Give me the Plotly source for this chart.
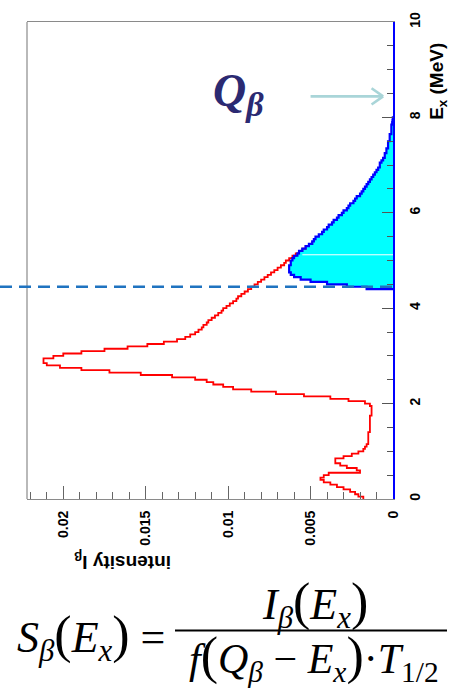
import plotly.graph_objects as go

# ---------------- data ----------------
BIN_W = 0.05  # MeV

# red histogram: beta intensity, bins starting at E = 0.00 MeV
red_E0 = 0.0
red_I = [
    0.0018, 0.0021, 0.0023, 0.0026, 0.0030, 0.0034, 0.0038, 0.0042, 0.0044, 0.0042,  # 0.00-0.45
    0.0039, 0.0020, 0.0022, 0.0028, 0.0032, 0.0035, 0.0035, 0.0030, 0.0025, 0.0021,  # 0.50-0.95
    0.0018, 0.0017, 0.0016, 0.0015, 0.0015, 0.0015, 0.0015, 0.0015, 0.0014, 0.0014,  # 1.00-1.45
    0.0014, 0.0014, 0.0014, 0.0014, 0.0014, 0.0013, 0.0013, 0.0013, 0.0013, 0.0014,  # 1.50-1.95
    0.0017, 0.0027, 0.0038, 0.0054, 0.0071, 0.0086, 0.0097, 0.0103, 0.0109, 0.0113,  # 2.00-2.45
    0.0120, 0.0134, 0.0153, 0.0172, 0.0189, 0.0202, 0.0210, 0.0212, 0.0212, 0.0206,  # 2.50-2.95
    0.0200, 0.0189, 0.0175, 0.0161, 0.0149, 0.0139, 0.0131, 0.0126, 0.0123, 0.0120,  # 3.00-3.45
    0.0118, 0.0116, 0.0115, 0.0113, 0.0112, 0.0110, 0.0108, 0.0106, 0.0104, 0.0103,  # 3.50-3.95
    0.0101, 0.0099, 0.0097, 0.0095, 0.0094, 0.0092, 0.0090, 0.0088, 0.0086, 0.0084,  # 4.00-4.45
    0.0082, 0.0080, 0.0078, 0.0076, 0.0074, 0.0072, 0.0070, 0.0068, 0.0066, 0.0065,  # 4.50-4.95
    0.0063, 0.0061, 0.0059, 0.0057, 0.0055, 0.0053, 0.0051, 0.0049,                  # 5.00-5.35
]

# blue histogram (above the threshold), bins starting at E = 4.40 MeV
blue_E0 = 4.40
blue_I = [
    0.0016, 0.0028, 0.0040, 0.0050, 0.0056, 0.0060, 0.0062, 0.0063, 0.0063, 0.0063,  # 4.40-4.85
    0.0062, 0.0062, 0.0061, 0.0060, 0.0058, 0.0057, 0.0055, 0.0053, 0.0051, 0.0049,  # 4.90-5.35
    0.0048, 0.0047, 0.0045, 0.0043, 0.0042, 0.0040, 0.0039, 0.0037, 0.0036, 0.0034,  # 5.40-5.85
    0.0033, 0.0031, 0.0030, 0.0028, 0.0027, 0.0026, 0.0024, 0.0023, 0.0022, 0.0020,  # 5.90-6.35
    0.0019, 0.0018, 0.0017, 0.0016, 0.0015, 0.0014, 0.0013, 0.0012, 0.0011, 0.0010,  # 6.40-6.85
    0.0009, 0.0008, 0.0008, 0.0007, 0.0006, 0.0005, 0.0005, 0.0004, 0.0004, 0.0003,  # 6.90-7.35
    0.0003, 0.0003, 0.0002, 0.0002, 0.0002, 0.0001, 0.0001, 0.0001, 0.0001, 0.00005, # 7.40-7.85
    0.00003, 0.00001,                                                                 # 7.90-7.95
]

threshold_E = 4.45      # dashed line
q_arrow_E = 8.44        # arrow pointing at Q_beta
white_line_E = 5.12     # thin white line through the filled region

E_ticks = [0, 2, 4, 6, 8, 10]
I_ticks = [0, 0.005, 0.01, 0.015, 0.02]
I_tick_text = ["0", "0.005", "0.01", "0.015", "0.02"]

E_range = [0, 10]
I_range = [0.0222, 0]

# ---------------- layout geometry ----------------
W, H = 452, 691
ML, MR, MT, MB = 27, 59, 13, 192
PW, PH = W - ML - MR, H - MT - MB


def px2paper(px, py):
    return (px - ML) / PW, (H - MB - py) / PH


def step_xy(E0, vals, close=True):
    xs, ys = [], []
    if close:
        xs.append(0.0)
        ys.append(E0)
    for i, v in enumerate(vals):
        xs.append(v)
        ys.append(E0 + i * BIN_W)
    xs.append(vals[-1])
    ys.append(E0 + len(vals) * BIN_W)
    if close:
        xs.append(0.0)
        ys.append(E0 + len(vals) * BIN_W)
    return xs, ys


fig = go.Figure()

bx, by = step_xy(blue_E0, blue_I)
fig.add_trace(go.Scatter(x=bx, y=by, mode="lines", line=dict(color="#00ffff", width=0, shape="vh"),
                         fill="tozerox", fillcolor="#00ffff", hoverinfo="skip"))

rx, ry = step_xy(red_E0, red_I, close=False)
fig.add_trace(go.Scatter(x=rx, y=ry, mode="lines", line=dict(color="#ff0000", width=1.8, shape="vh")))

fig.add_trace(go.Scatter(x=bx, y=by, mode="lines", line=dict(color="#0000ff", width=2.2, shape="vh")))

shapes = []
# white artifact line through cyan fill
shapes.append(dict(type="line", xref="x", yref="y", x0=0, x1=0.0055, y0=white_line_E, y1=white_line_E,
                   line=dict(color="white", width=1), layer="above"))
# left grey frame
shapes.append(dict(type="line", xref="paper", yref="paper", x0=0, x1=0, y0=0, y1=1,
                   line=dict(color="#8a8a8a", width=1.2)))
# dashed threshold line
ty = (threshold_E - E_range[0]) / (E_range[1] - E_range[0])
shapes.append(dict(type="line", xref="paper", yref="paper", x0=px2paper(0, 0)[0], x1=1, y0=ty, y1=ty,
                   line=dict(color="#1f73c0", width=2.6, dash="12px,7px"), layer="above"))
# Q_beta arrow (shaft + open chevron)
arrow_col = "#a9d5d8"
shapes.append(dict(type="line", xref="x", yref="y", x0=0.0050, x1=0.0006, y0=q_arrow_E, y1=q_arrow_E,
                   line=dict(color=arrow_col, width=2.6)))
shapes.append(dict(type="line", xref="x", yref="y", x0=0.0013, x1=0.0006, y0=q_arrow_E + 0.17, y1=q_arrow_E,
                   line=dict(color=arrow_col, width=2.6)))
shapes.append(dict(type="line", xref="x", yref="y", x0=0.0013, x1=0.0006, y0=q_arrow_E - 0.17, y1=q_arrow_E,
                   line=dict(color=arrow_col, width=2.6)))
# fraction bar
fx0, fy = px2paper(175, 633)
fx1, _ = px2paper(447, 633)
shapes.append(dict(type="line", xref="paper", yref="paper", x0=fx0, x1=fx1, y0=fy, y1=fy,
                   line=dict(color="black", width=2)))

annotations = []


def ann(text, px, py, size, family="Liberation Sans", angle=0, color="black", xanchor="center",
        yanchor="middle", weight="normal"):
    x, y = px2paper(px, py)
    annotations.append(dict(text=text, x=x, y=y, xref="paper", yref="paper", showarrow=False,
                            textangle=angle, xanchor=xanchor, yanchor=yanchor,
                            font=dict(size=size, family=family, color=color, weight=weight)))


ann("E<sub>x</sub> (MeV)", 438, 74, 19, angle=-90, weight="bold")
ann("intensity I<sub>β</sub>", 123, 562, 19, angle=180, weight="bold")
ann("<b><i>Q</i></b><sub><span style='font-size:34px'><b><i>β</i></b></span></sub>", 238, 86, 46,
    family="Liberation Serif", color="#2b2a72")

serif = "Liberation Serif"
big = "<span style='font-size:52px'>%s</span>"
ann("<i>S</i><sub><i>β</i></sub>" + big % "(" + "<i>E</i><sub><i>x</i></sub>" + big % ")" + " =",
    91, 640, 44, family=serif)
ann("<i>I</i><sub><i>β</i></sub>" + big % "(" + "<i>E</i><sub><i>x</i></sub>" + big % ")",
    315, 606, 44, family=serif)
ann("<i>f</i>" + big % "(" + "<i>Q</i><sub><i>β</i></sub> − <i>E</i><sub><i>x</i></sub>" + big % ")"
    + "·<i>T</i><sub>1/2</sub>", 314, 660, 42, family=serif)

fig.update_layout(
    width=W, height=H,
    margin=dict(l=ML, r=MR, t=MT, b=MB, pad=0),
    paper_bgcolor="white", plot_bgcolor="white",
    showlegend=False,
    shapes=shapes, annotations=annotations,
    xaxis=dict(range=I_range, tickvals=I_ticks, ticktext=I_tick_text, tickangle=-90,
               ticks="inside", ticklen=13, tickcolor="#666", tickwidth=1,
               minor=dict(dtick=0.001, tick0=0, ticks="inside", ticklen=7, tickcolor="#666"),
               showline=True, linecolor="#8a8a8a", linewidth=1.2, mirror=True,
               showgrid=False, zeroline=False, ticklabelstandoff=5,
               tickfont=dict(family="Liberation Sans", size=14, color="black", weight="bold")),
    yaxis=dict(range=E_range, tickvals=E_ticks, side="right", tickangle=-90,
               ticks="inside", ticklen=11, tickcolor="#555", tickwidth=1,
               minor=dict(dtick=0.5, tick0=0, ticks="inside", ticklen=6, tickcolor="#555"),
               showline=True, linecolor="#0000ff", linewidth=2,
               showgrid=False, zeroline=False, ticklabelstandoff=8,
               tickfont=dict(family="Liberation Sans", size=14, color="black", weight="bold")),
)

fig.write_html("out.html")
